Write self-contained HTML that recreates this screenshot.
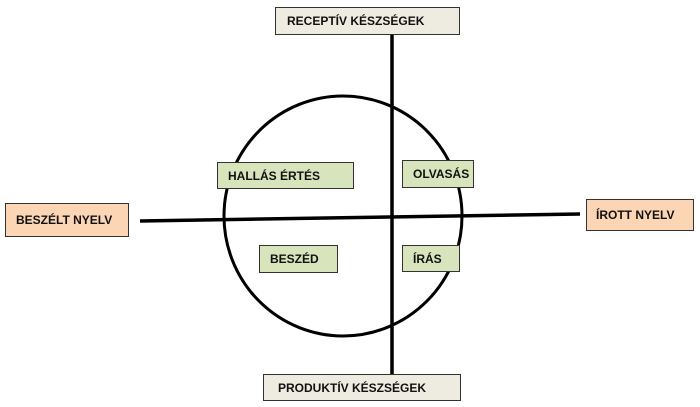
<!DOCTYPE html>
<html><head><meta charset="utf-8"><style>
body{margin:0;width:700px;height:407px;background:#fff;position:relative;overflow:hidden;font-family:"Liberation Sans",sans-serif;}
.b{position:absolute;box-sizing:border-box;border:1.5px solid #333;font-weight:bold;font-size:12px;color:#111;display:flex;align-items:center;padding-left:10px;white-space:nowrap;}
.g{background:#d8e4bc}.o{background:#fcd5b4}.n{background:#eeece1}
</style></head><body>
<svg width="700" height="407" style="position:absolute;left:0;top:0">
<ellipse cx="343" cy="216" rx="119" ry="120" fill="none" stroke="#000" stroke-width="3"/>
<line x1="392" y1="35" x2="392" y2="375" stroke="#000" stroke-width="3.5"/>
<line x1="140" y1="221" x2="580" y2="214" stroke="#000" stroke-width="3.5"/>
</svg>
<div class="b n" style="left:275px;top:7px;width:185px;height:28px;padding-left:11px">RECEPTÍV KÉSZSÉGEK</div>
<div class="b n" style="left:263px;top:374px;width:198px;height:27px;padding-left:14px">PRODUKTÍV KÉSZSÉGEK</div>
<div class="b o" style="left:5px;top:203px;width:124px;height:34px">BESZÉLT NYELV</div>
<div class="b o" style="left:586px;top:199px;width:108px;height:32px;padding-left:9px">ÍROTT NYELV</div>
<div class="b g" style="left:217px;top:162px;width:137px;height:27px">HALLÁS ÉRTÉS</div>
<div class="b g" style="left:402px;top:160px;width:72px;height:28px">OLVASÁS</div>
<div class="b g" style="left:259px;top:245px;width:79px;height:28px">BESZÉD</div>
<div class="b g" style="left:402px;top:245px;width:58px;height:27px">ÍRÁS</div>
</body></html>
